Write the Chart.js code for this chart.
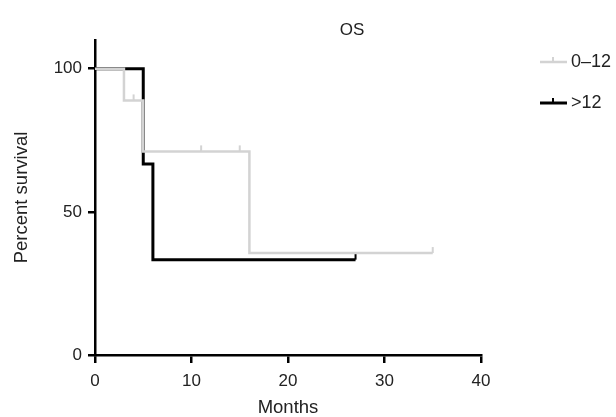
<!DOCTYPE html>
<html>
<head>
<meta charset="utf-8">
<script src="https://cdn.jsdelivr.net/npm/chart.js@4.4.1/dist/chart.umd.min.js"></script>
<style>
  html, body { margin: 0; padding: 0; background: #fff; }
  #wrap { width: 616px; height: 417px; }
</style>
</head>
<body>
<div id="wrap"><canvas id="os-chart" width="616" height="417"></canvas></div>
<script>
// Kaplan-Meier steps (months, percent survival, censored?)
const groupNames = ["0\u201312", ">12"];
const groupColors = ["#d3d3d3", "#000000"];

const lowMonths   = [0, 3, 4, 5, 11, 15, 16, 35];
const lowSurvival = [100, 88.9, 88.9, 71.1, 71.1, 71.1, 35.6, 35.6];
const lowCensored = [0, 0, 1, 0, 1, 1, 0, 1];

const highMonths   = [0, 5, 6, 27];
const highSurvival = [100, 66.7, 33.3, 33.3];
const highCensored = [0, 0, 0, 1];

const xTicks = [0, 10, 20, 30, 40];
const yTicks = [0, 50, 100];

const FONT = "'Liberation Sans', Arial, sans-serif";

function toPoints(months, survival){
    return months.map(function(m, i){ return {x: m, y: survival[i]}; });
}

function makeDataset(idx, months, survival, censored, width){
    return {
        label: groupNames[idx],
        data: toPoints(months, survival),
        stepped: 'before',
        borderColor: groupColors[idx],
        borderWidth: width,
        pointStyle: 'dash',
        rotation: 270,
        pointRadius: censored.map(function(c){ return c ? 6 : 0; }),
        pointHoverRadius: censored.map(function(c){ return c ? 6 : 0; }),
        pointBorderColor: groupColors[idx],
        pointBorderWidth: 2,
        pointBackgroundColor: groupColors[idx],
        fill: false
    };
}

// title and legend drawn by hand to sit where the original has them
const extrasPlugin = {
    id: 'extras',
    afterDraw: function(chart){
        const ctx = chart.ctx;
        ctx.save();
        ctx.fillStyle = '#222';
        ctx.font = '17px ' + FONT;
        ctx.textAlign = 'center';
        ctx.textBaseline = 'middle';
        ctx.fillText('OS', 352, 30);

        const rows = [62, 103];
        chart.data.datasets.forEach(function(ds, i){
            const y = rows[i];
            ctx.strokeStyle = ds.borderColor;
            ctx.lineWidth = ds.borderWidth;
            ctx.beginPath();
            ctx.moveTo(540, y);
            ctx.lineTo(567, y);
            ctx.stroke();
            ctx.lineWidth = 2;
            ctx.beginPath();
            ctx.moveTo(553, y);
            ctx.lineTo(553, y - 5);
            ctx.stroke();
            ctx.fillStyle = '#222';
            ctx.font = '18px ' + FONT;
            ctx.textAlign = 'left';
            ctx.fillText(ds.label, 571, y);
        });
        ctx.restore();
    }
};

function createSurvivalChart(){
    new Chart(document.getElementById("os-chart"), {
        type: 'line',
        data: {
            datasets: [
                makeDataset(0, lowMonths, lowSurvival, lowCensored, 2.5),
                makeDataset(1, highMonths, highSurvival, highCensored, 3)
            ]
        },
        options: {
            responsive: false,
            animation: false,
            layout: { padding: { left: 0, right: 135, top: 40, bottom: 0 } },
            plugins: {
                legend: { display: false },
                title: { display: false },
                tooltip: { enabled: false }
            },
            scales: {
                x: {
                    type: 'linear',
                    min: 0,
                    max: 40,
                    afterFit: function(s){ s.height = 62; },
                    afterBuildTicks: function(s){ s.ticks = xTicks.map(function(v){ return {value: v}; }); },
                    border: { display: true, color: '#000', width: 2.5 },
                    grid: { drawOnChartArea: false, drawTicks: true, tickLength: 8, color: '#000', lineWidth: 2.5 },
                    ticks: { color: '#222', font: { family: FONT, size: 17 }, padding: 8, maxRotation: 0 },
                    title: { display: true, text: 'Months', color: '#222',
                             font: { family: FONT, size: 18.5, lineHeight: 1 }, padding: { top: 0, bottom: 0 } }
                },
                y: {
                    min: 0,
                    max: 110,
                    afterFit: function(s){ s.width = 95; },
                    afterBuildTicks: function(s){ s.ticks = yTicks.map(function(v){ return {value: v}; }); },
                    border: { display: true, color: '#000', width: 2.5 },
                    grid: { drawOnChartArea: false, drawTicks: true, tickLength: 7, color: '#000', lineWidth: 2.5 },
                    ticks: { color: '#222', font: { family: FONT, size: 17 }, padding: 6 },
                    title: { display: true, text: 'Percent survival', color: '#222',
                             font: { family: FONT, size: 18.5, lineHeight: 1 }, padding: { top: 12.5, bottom: 0 } }
                }
            }
        },
        plugins: [extrasPlugin]
    });
}

createSurvivalChart();
</script>
</body>
</html>
